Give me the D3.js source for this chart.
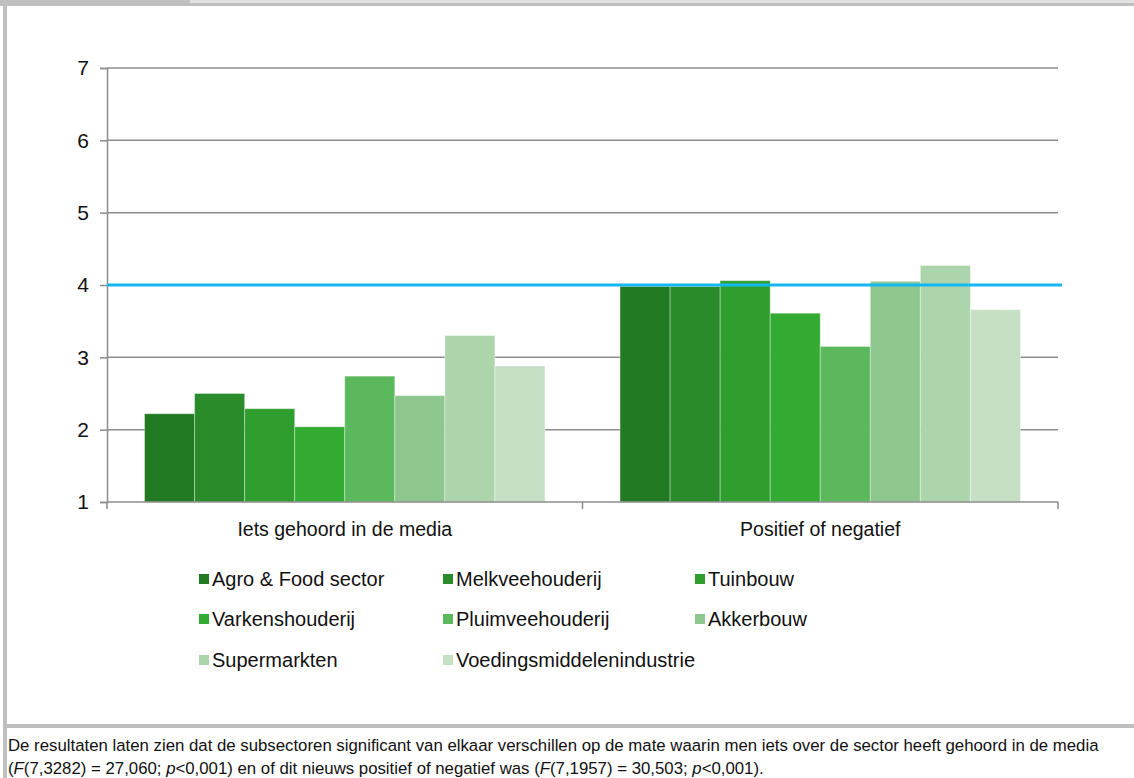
<!DOCTYPE html>
<html>
<head>
<meta charset="utf-8">
<script src="https://cdn.jsdelivr.net/npm/d3@7"></script>
<style>
  html, body { margin: 0; padding: 0; background: #ffffff; }
  svg { display: block; }
  text { font-family: "Liberation Sans", Arial, sans-serif; fill: #111; }
</style>
</head>
<body>
<svg id="chart" width="1134" height="778"></svg>
<script>
// ---- data ----
const categories = ["Iets gehoord in de media", "Positief of negatief"];
const series = ["Agro & Food sector", "Melkveehouderij", "Tuinbouw", "Varkenshouderij",
                "Pluimveehouderij", "Akkerbouw", "Supermarkten", "Voedingsmiddelenindustrie"];
const valuesMedia   = [2.22, 2.50, 2.29, 2.04, 2.74, 2.47, 3.30, 2.88];
const valuesPositief = [3.98, 3.98, 4.06, 3.61, 3.15, 4.05, 4.27, 3.66];
const colors = ["#217a21", "#298b29", "#2f9e2f", "#33ab33", "#5cb85c", "#8dc78d", "#acd5ac", "#c6e0c6"];
const yTicks = [1, 2, 3, 4, 5, 6, 7];
const referenceValue = 4;

const allValues = [valuesMedia, valuesPositief];

const svg = d3.select("#chart");

// ---- frame ----
svg.append("rect").attr("x", 0).attr("y", 0).attr("width", 1134).attr("height", 6).attr("fill", "#bfbfbf");
svg.append("rect").attr("x", 190).attr("y", 0).attr("width", 944).attr("height", 3).attr("fill", "#e2e2e2");
svg.append("rect").attr("x", 3).attr("y", 0).attr("width", 4).attr("height", 778).attr("fill", "#bfbfbf");
svg.append("rect").attr("x", 3).attr("y", 724).attr("width", 1131).attr("height", 4).attr("fill", "#bfbfbf");

// ---- scales ----
const x0 = d3.scaleBand().domain(categories).range([107, 1058]).paddingInner(0).paddingOuter(0);
const x1 = d3.scaleBand().domain(series).range([0, x0.bandwidth()]).paddingInner(0).paddingOuter(0.75);
const y = d3.scaleLinear().domain([1, 7]).range([502, 68]);
const color = d3.scaleOrdinal().domain(series).range(colors);

// ---- gridlines ----
svg.append("g")
  .selectAll("line")
  .data(yTicks.filter(d => d > 1))
  .join("line")
  .attr("x1", 107).attr("x2", 1058)
  .attr("y1", d => y(d)).attr("y2", d => y(d))
  .attr("stroke", "#8c8c8c").attr("stroke-width", 1.5);

// ---- bars ----
const groups = svg.append("g")
  .selectAll("g")
  .data(categories.map((c, i) => ({ cat: c, vals: allValues[i] })))
  .join("g")
  .attr("transform", d => `translate(${x0(d.cat)},0)`);

groups.selectAll("rect")
  .data(d => d.vals.map((v, i) => ({ s: series[i], v })))
  .join("rect")
  .attr("x", d => x1(d.s))
  .attr("y", d => y(d.v))
  .attr("width", x1.bandwidth())
  .attr("height", d => y(1) - y(d.v))
  .attr("fill", d => color(d.s))
  .attr("stroke", "rgba(255,255,255,0.35)")
  .attr("stroke-width", 1);

// ---- y axis ----
const yAxis = d3.axisLeft(y).tickValues(yTicks).tickSize(7).tickPadding(11).tickFormat(d3.format("d"));
const gy = svg.append("g").attr("transform", "translate(107,0)").call(yAxis);
gy.select(".domain").attr("stroke", "#8c8c8c").attr("stroke-width", 1.5);
gy.selectAll(".tick line").attr("stroke", "#8c8c8c").attr("stroke-width", 1.5);
gy.selectAll(".tick text").attr("font-size", 21).attr("fill", "#111")
  .attr("font-family", "Liberation Sans, Arial, sans-serif");

// ---- x axis ----
const xAxis = d3.axisBottom(x0).tickSize(0).tickPadding(20);
const gx = svg.append("g").attr("transform", "translate(0,502)").call(xAxis);
gx.select(".domain").attr("stroke", "#8c8c8c").attr("stroke-width", 1.5).attr("d", "M107,0H1058");
gx.selectAll(".tick text").attr("font-size", 19.5).attr("fill", "#111")
  .attr("font-family", "Liberation Sans, Arial, sans-serif");
// category boundary ticks
const boundaries = categories.map(c => x0(c)).concat([x0(categories[categories.length - 1]) + x0.bandwidth()]);
gx.append("g").selectAll("line").data(boundaries).join("line")
  .attr("x1", d => d).attr("x2", d => d).attr("y1", 0).attr("y2", 7)
  .attr("stroke", "#8c8c8c").attr("stroke-width", 1.5);

// ---- reference line ----
svg.append("line")
  .attr("x1", 107).attr("x2", 1062)
  .attr("y1", y(referenceValue)).attr("y2", y(referenceValue))
  .attr("stroke", "#14b8f0").attr("stroke-width", 3);

// ---- legend ----
const legendCols = [199, 443, 695];
const legendRows = [579, 619, 660];
const legend = svg.append("g").selectAll("g").data(series).join("g")
  .attr("transform", (d, i) => `translate(${legendCols[i % 3]},${legendRows[Math.floor(i / 3)]})`);
legend.append("rect").attr("x", 0).attr("y", -5).attr("width", 10).attr("height", 10)
  .attr("fill", d => color(d));
legend.append("text").attr("x", 13).attr("y", 0).attr("dy", "0.36em")
  .attr("font-size", 20).text(d => d);

// ---- footer note ----
const note = svg.append("g").attr("font-size", 16.8);
note.append("text").attr("x", 8).attr("y", 751)
  .text("De resultaten laten zien dat de subsectoren significant van elkaar verschillen op de mate waarin men iets over de sector heeft gehoord in de media");
const l2 = note.append("text").attr("x", 8).attr("y", 774);
l2.append("tspan").text("(");
l2.append("tspan").attr("font-style", "italic").text("F");
l2.append("tspan").text("(7,3282) = 27,060; ");
l2.append("tspan").attr("font-style", "italic").text("p");
l2.append("tspan").text("<0,001) en of dit nieuws positief of negatief was (");
l2.append("tspan").attr("font-style", "italic").text("F");
l2.append("tspan").text("(7,1957) = 30,503; ");
l2.append("tspan").attr("font-style", "italic").text("p");
l2.append("tspan").text("<0,001).");
</script>
</body>
</html>
